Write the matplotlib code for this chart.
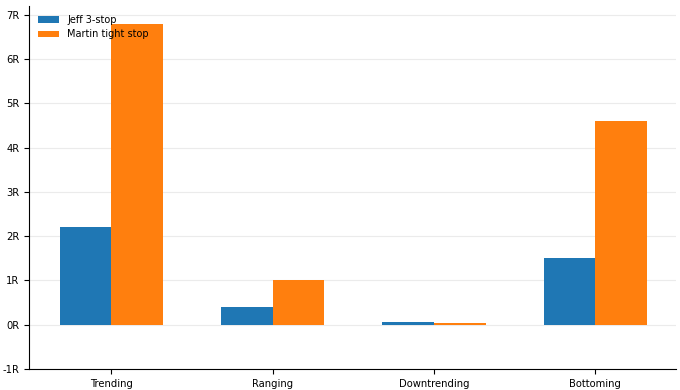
import numpy as np
import matplotlib.pyplot as plt

# regimen de mercado y resultado medio en R
categories = ['Trending', 'Ranging', 'Downtrending', 'Bottoming']
jeff = [2.2, 0.4, 0.06, 1.5]
martin = [6.8, 1.0, 0.03, 4.6]
yticks = [-1, 0, 1, 2, 3, 4, 5, 6, 7]

x = np.arange(len(categories))
w = 0.32

fig = plt.figure(figsize=(6.8, 3.9), dpi=100)
ax = fig.add_axes([0.043, 0.054, 0.951, 0.931])
ax.bar(x - w/2, jeff, w, color='#1f77b4', label='Jeff 3-stop', zorder=2)
ax.bar(x + w/2, martin, w, color='#ff7f0e', label='Martin tight stop', zorder=2)

ax.set_xticks(x)
ax.set_xticklabels(categories, fontsize=7.2)
ax.set_yticks(yticks)
ax.set_yticklabels([f'{t}R' for t in yticks], fontsize=7.2)
ax.set_ylim(-1, 7.2)
ax.set_xlim(-0.51, 3.5)
ax.grid(axis='y', color='#ebebeb', linewidth=0.8, zorder=0)
ax.spines['top'].set_visible(False)
ax.spines['right'].set_visible(False)
ax.legend(loc='upper left', frameon=False, fontsize=7, handlelength=2.2)

fig.savefig('out.png', dpi=100)
